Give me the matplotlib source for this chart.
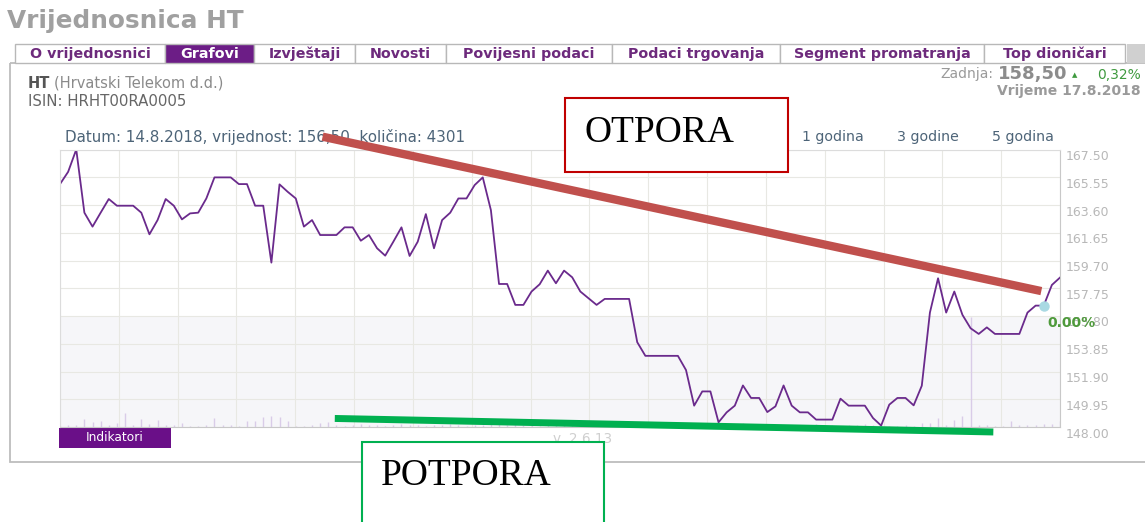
import matplotlib.pyplot as plt
import numpy as np
from matplotlib.patches import Rectangle
from matplotlib.transforms import offset_copy

W, H = 1145, 522

# closing prices, one per trading day
price = [165.07, 165.93, 167.50, 163.06, 162.08, 163.06, 164.02, 163.55, 163.55, 163.55,
         163.06, 161.54, 162.54, 164.02, 163.55, 162.59, 163.01, 163.06, 164.06, 165.54,
         165.54, 165.54, 165.07, 165.07, 163.55, 163.55, 159.55, 165.05, 164.53, 164.06,
         162.08, 162.54, 161.49, 161.49, 161.49, 162.03, 162.03, 161.09, 161.49, 160.56,
         160.04, 161.02, 162.03, 160.02, 161.02, 162.96, 160.56, 162.54, 163.06, 164.06,
         164.06, 165.00, 165.54, 163.24, 158.05, 158.05, 156.58, 156.58, 157.52, 158.03,
         158.99, 158.10, 158.99, 158.52, 157.52, 157.05, 156.58, 157.00, 157.00, 157.00,
         157.00, 153.96, 153.00, 153.00, 153.00, 153.00, 153.00, 152.00, 149.50, 150.50,
         150.50, 148.33, 149.03, 149.50, 150.92, 150.04, 150.04, 149.05, 149.45, 150.92,
         149.50, 149.03, 149.03, 148.52, 148.52, 148.52, 149.99, 149.50, 149.50, 149.50,
         148.63, 148.10, 149.57, 150.04, 150.04, 149.52, 150.90, 156.04, 158.45, 156.04,
         157.52, 155.88, 154.94, 154.54, 155.00, 154.54, 154.54, 154.54, 154.54, 156.04,
         156.53, 156.53, 157.98, 158.50]

# traded volume (relative bar heights)
volume = [1, 2, 2, 8, 5, 6, 2, 4, 14, 2, 8, 3, 7, 2, 2, 4, 1, 1, 2, 9,
          2, 2, 1, 6, 6, 10, 11, 10, 6, 1, 1, 2, 4, 5,
          2, 1, 2, 3, 2, 2, 1, 2, 3, 2,
          2, 1, 2, 2, 3, 2, 1, 2, 2, 3,
          4, 2, 3, 2, 2, 1, 2, 2, 3, 2,
          2, 1, 1, 2, 2, 3, 2, 1, 2, 3,
          2, 2, 1, 2, 2, 3, 2, 1, 2, 2,
          4, 2, 1, 2, 3, 2, 2, 1, 2, 3,
          2, 2, 1, 2, 2, 3, 2,
          2, 1, 1, 2, 1, 4, 4, 9, 2, 7, 11, 110, 2, 2, 1, 1, 6, 2, 2, 2, 3, 3, 6]

yticks = [148.00, 149.95, 151.90, 153.85, 155.80, 157.75, 159.70, 161.65, 163.60, 165.55, 167.50]
band_top = 155.80

tabs = ["O vrijednosnici", "Grafovi", "Izvještaji", "Novosti", "Povijesni podaci",
        "Podaci trgovanja", "Segment promatranja", "Top dioničari"]
tab_edges = [15, 165, 254, 355, 446, 612, 780, 984, 1125]
active_tab = "Grafovi"

periods = ["1 godina", "3 godine", "5 godina"]

# hand drawn trend lines (day index, price)
otpora_x, otpora_y = [32.3, 120.7], [168.40, 157.55]
potpora_x, potpora_y = [33.8, 114.8], [148.60, 147.65]

purple = '#6c1d86'
fig = plt.figure(figsize=(W / 100, H / 100), dpi=100)

# page background in pixel coordinates
bg = fig.add_axes([0, 0, 1, 1])
bg.set_xlim(0, W)
bg.set_ylim(H, 0)
bg.axis('off')

bg.text(7, 21, "Vrijednosnica HT", fontsize=17.8, fontweight='bold', color='#a0a0a0', va='center')

bg.add_patch(Rectangle((10, 63), 1150, 399, fill=False, ec='#bdbdbd', lw=1.3))
for i, name in enumerate(tabs):
    x0, x1 = tab_edges[i], tab_edges[i + 1]
    on = name == active_tab
    bg.add_patch(Rectangle((x0, 44), x1 - x0, 19, fc=purple if on else 'white', ec='#b8b8b8', lw=1))
    bg.text((x0 + x1) / 2, 54, name, fontsize=10.3, fontweight='bold',
            color='white' if on else '#6d2a7c', ha='center', va='center')
bg.add_patch(Rectangle((1127, 44), 30, 19, fc='#d0d0d0', ec='none'))

bg.text(28, 83, "HT", fontsize=10.5, fontweight='bold', color='#555555', va='center')
bg.text(54, 83, "(Hrvatski Telekom d.d.)", fontsize=10.5, color='#8a8a8a', va='center')
bg.text(28, 101, "ISIN: HRHT00RA0005", fontsize=10.8, color='#666666', va='center')

bg.text(1141, 75, "0,32%", fontsize=10, color='#3f9a3f', ha='right', va='center')
bg.text(1077, 75, "\u25b2", fontsize=5, color='#3f9a3f', ha='right', va='center')
bg.text(1067, 74, "158,50", fontsize=13, fontweight='bold', color='#8c8c8c', ha='right', va='center')
bg.text(993, 74, "Zadnja:", fontsize=10, color='#9a9a9a', ha='right', va='center')
bg.text(1141, 91, "Vrijeme 17.8.2018", fontsize=10, fontweight='bold', color='#9a9a9a', ha='right', va='center')

bg.text(65, 137, "Datum: 14.8.2018, vrijednost: 156,50, količina: 4301", fontsize=10.9,
        color='#4d6478', va='center')
for xp, label in zip([802, 897, 992], periods):
    bg.text(xp, 137, label, fontsize=10.2, color='#4d6478', va='center')

bg.add_patch(Rectangle((59, 428), 112, 19.5, fc='#6a0f88', ec='none'))
bg.text(115, 437.5, "Indikatori", fontsize=8.8, color='white', ha='center', va='center')
bg.text(553, 439, "v. 2.6.13", fontsize=9.8, color='#cfcfcf', va='center')

# price chart
ax = fig.add_axes([60 / W, (H - 427) / H, 1000 / W, 277.5 / H], zorder=2)
days = np.arange(len(price))
ax.set_xlim(0, len(price) - 1)
ax.set_ylim(yticks[0], yticks[-1])
ax.set_xticks(np.linspace(0, len(price) - 1, 18))
ax.set_yticks(yticks)
ax.tick_params(length=0, labelbottom=False, labelleft=False)
ax.set_axisbelow(True)
ax.grid(True, color='#e8e8e3', lw=0.8)
for side in ['top', 'left']:
    ax.spines[side].set_color('#dcdcdc')
for side in ['right', 'bottom']:
    ax.spines[side].set_color('#c8c8c8')

ax.axhspan(yticks[0], band_top, color='#f6f6f9', zorder=0.2, lw=0)
ax.vlines(np.arange(len(volume)), 0, np.array(volume) / 277.5, transform=ax.get_xaxis_transform(),
          color='#d9cce8', lw=1, zorder=1)
ax.plot(days, price, color='#6a2a8c', lw=1.3, zorder=2)
ax.plot(days[121], price[121], 'o', ms=6.5, color='#a9d9e3', zorder=3)

lab_tr = offset_copy(ax.get_yaxis_transform(), fig=fig, x=6, y=-7, units='dots')
for v in yticks:
    ax.text(1.0, v, f"{v:.2f}", transform=lab_tr, fontsize=9, color='#b8b8b8', va='center')
ax.text(1.0, band_top, "0.00%", transform=offset_copy(ax.get_yaxis_transform(), fig=fig, x=-13, y=-7, units='dots'),
        fontsize=10, fontweight='bold', color='#4f9a3c', va='center')

ax.plot(otpora_x, otpora_y, color='#c0504d', lw=6, solid_capstyle='butt', clip_on=False, zorder=4)
ax.plot(potpora_x, potpora_y, color='#00b050', lw=5, solid_capstyle='butt', clip_on=False, zorder=4)

# text boxes on top
ov = fig.add_axes([0, 0, 1, 1], zorder=3)
ov.set_xlim(0, W)
ov.set_ylim(H, 0)
ov.axis('off')
ov.add_patch(Rectangle((565, 98), 223, 74, fc='white', ec='#c00000', lw=1.5))
ov.text(585, 133, "OTPORA", fontsize=27, family='Liberation Serif', color='black', va='center')
ov.add_patch(Rectangle((362, 442), 242, 100, fc='white', ec='#00b050', lw=1.5))
ov.text(381, 476, "POTPORA", fontsize=27, family='Liberation Serif', color='black', va='center')

fig.savefig('out.png', dpi=100)
